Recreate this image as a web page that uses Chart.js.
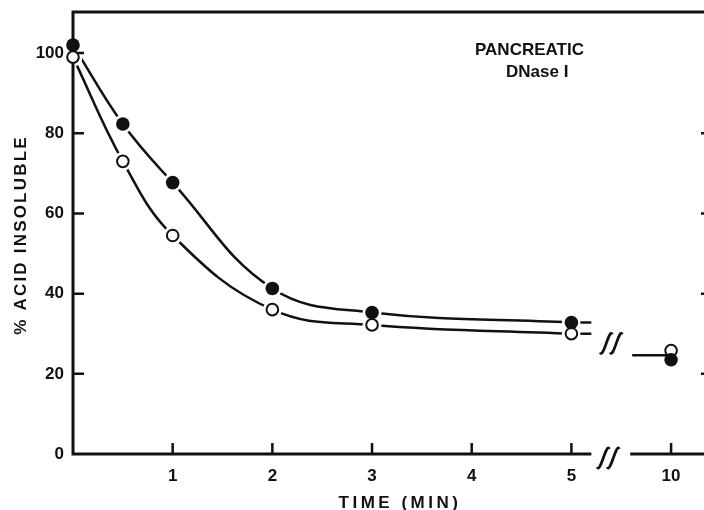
<!DOCTYPE html>
<html>
<head>
<meta charset="utf-8">
<script src="https://cdn.jsdelivr.net/npm/chart.js@4"></script>
<style>
  html, body { margin: 0; padding: 0; background: #fff; }
</style>
</head>
<body>
<canvas id="myChart" width="704" height="510"></canvas>
<script>
// minutes, and % acid insoluble
const times = [0, 0.5, 1, 2, 3, 5];
const filledValues = [102, 82.3, 67.7, 41.3, 35.3, 32.8];
const openValues = [99, 73, 54.5, 36, 32.2, 30];
// the 10 min points sit after the axis break
const breakPos = 6;
const filledAt10 = 23.5;
const openAt10 = 25.8;

const xTicks = [1, 2, 3, 4, 5, 6];
const xTickLabels = ['1', '2', '3', '4', '5', '10'];
const yTicks = [0, 20, 40, 60, 80, 100];

const ink = '#111';
const font = 'bold 17px "Liberation Sans", Arial, sans-serif';

function pts(values, last) {
  return times.map((t, i) => ({ x: t, y: values[i] })).concat(last === undefined ? [] : [{ x: breakPos, y: last }]);
}

function drawBreak(ctx, cx, cy) {
  // two slanted integral-like strokes
  [-5, 5].forEach(dx => {
    const x0 = cx + dx;
    ctx.beginPath();
    ctx.moveTo(x0 - 6, cy + 9);
    ctx.bezierCurveTo(x0 - 3, cy + 16, x0 + 3, cy - 16, x0 + 6, cy - 9);
    ctx.stroke();
  });
}

const decor = {
  id: 'decor',
  afterDatasetDraw(chart, args) {
    if (chart.data.datasets[args.index].label !== 'halo') return;
    const { ctx, chartArea: a, scales: { x, y } } = chart;
    const edge = chart.width; // frame runs off the right side of the picture
    ctx.save();
    ctx.strokeStyle = ink;
    ctx.lineWidth = 3;
    ctx.beginPath();
    ctx.moveTo(edge, a.top);
    ctx.lineTo(a.left, a.top);
    ctx.lineTo(a.left, a.bottom);
    ctx.lineTo(x.getPixelForValue(5.2), a.bottom);
    ctx.moveTo(x.getPixelForValue(5.59), a.bottom);
    ctx.lineTo(edge, a.bottom);
    ctx.stroke();

    // inward tick marks
    ctx.lineWidth = 2.5;
    ctx.beginPath();
    yTicks.forEach(v => {
      if (!v) return;
      const py = y.getPixelForValue(v);
      ctx.moveTo(a.left, py);
      ctx.lineTo(a.left + 11, py);
      if (v < 100) {
        ctx.moveTo(edge - 3, py);
        ctx.lineTo(edge, py);
      }
    });
    xTicks.forEach(v => {
      const px = x.getPixelForValue(v);
      ctx.moveTo(px, a.bottom);
      ctx.lineTo(px, a.bottom - 11);
    });
    ctx.stroke();

    // curves run on a little past 5 min
    const x5 = x.getPixelForValue(5);
    const xEnd = x.getPixelForValue(5.2);
    ctx.beginPath();
    [filledValues, openValues].forEach(vals => {
      const py = y.getPixelForValue(vals[vals.length - 1]);
      ctx.moveTo(x5 + 9, py);
      ctx.lineTo(xEnd, py);
    });
    // short lead-in to the 10 min points
    const py10 = y.getPixelForValue((filledAt10 + openAt10) / 2);
    ctx.moveTo(x.getPixelForValue(5.61), py10);
    ctx.lineTo(x.getPixelForValue(breakPos), py10);
    ctx.stroke();

    ctx.lineWidth = 2.8;
    drawBreak(ctx, x.getPixelForValue(5.4), y.getPixelForValue(27.6));
    drawBreak(ctx, x.getPixelForValue(5.37), a.bottom + 4);
    ctx.restore();
  },
  afterDraw(chart) {
    const { ctx } = chart;
    ctx.save();
    ctx.fillStyle = ink;
    ctx.font = font;
    ctx.textBaseline = 'alphabetic';

    ctx.textAlign = 'left';
    ctx.fillText('PANCREATIC', 475, 55);
    ctx.fillText('DNase I', 506, 77);

    ctx.letterSpacing = '3.5px';
    ctx.textAlign = 'center';
    ctx.fillText('TIME (MIN)', 400, 508);

    ctx.letterSpacing = '2.2px';
    ctx.translate(26, 235);
    ctx.rotate(-Math.PI / 2);
    ctx.fillText('% ACID INSOLUBLE', 0, 0);
    ctx.restore();
  }
};

const lineStyle = {
  showLine: true,
  pointRadius: 0,
  borderColor: ink,
  borderWidth: 2.5,
  tension: 0.4,
  fill: false,
  clip: false,
  order: 4
};

const data = {
  datasets: [
    { label: 'filled curve', data: pts(filledValues), ...lineStyle },
    { label: 'open curve', data: pts(openValues), ...lineStyle },
    {
      label: 'halo',
      data: pts(filledValues, filledAt10).concat(pts(openValues, openAt10)),
      showLine: false,
      pointRadius: 9.5,
      pointBackgroundColor: '#fff',
      pointBorderWidth: 0,
      clip: 0,
      order: 3
    },
    {
      label: 'open',
      data: pts(openValues, openAt10),
      showLine: false,
      pointRadius: 5.8,
      pointBackgroundColor: '#fff',
      pointBorderColor: ink,
      pointBorderWidth: 2,
      clip: false,
      order: 2
    },
    {
      label: 'filled',
      data: pts(filledValues, filledAt10),
      showLine: false,
      pointRadius: 6.8,
      pointBackgroundColor: ink,
      pointBorderWidth: 0,
      clip: false,
      order: 1
    }
  ]
};

const tickFont = { family: '"Liberation Sans", Arial, sans-serif', size: 17, weight: 'bold' };

const config = {
  type: 'line',
  data: data,
  options: {
    responsive: false,
    devicePixelRatio: 1,
    animation: false,
    events: [],
    layout: { padding: { top: 12, left: 0, right: 0, bottom: 0 } },
    plugins: {
      legend: { display: false },
      tooltip: { enabled: false }
    },
    scales: {
      x: {
        type: 'linear',
        min: 0,
        max: 6.235,
        grid: { display: false, drawTicks: false },
        border: { display: false },
        afterBuildTicks: s => { s.ticks = xTicks.map(v => ({ value: v })); },
        afterFit: s => { s.height = 56; },
        ticks: {
          padding: 12,
          color: ink,
          font: tickFont,
          callback: (v, i) => xTickLabels[i]
        }
      },
      y: {
        min: 0,
        max: 110.25,
        grid: { display: false, drawTicks: false },
        border: { display: false },
        afterBuildTicks: s => { s.ticks = yTicks.map(v => ({ value: v })); },
        afterFit: s => { s.width = 73; s.paddingTop = 0; s.paddingBottom = 0; },
        ticks: {
          padding: 9,
          color: ink,
          font: tickFont
        }
      }
    }
  },
  plugins: [decor]
};

const ctx = document.getElementById('myChart').getContext('2d');
const chart = new Chart(ctx, config);
</script>
</body>
</html>
